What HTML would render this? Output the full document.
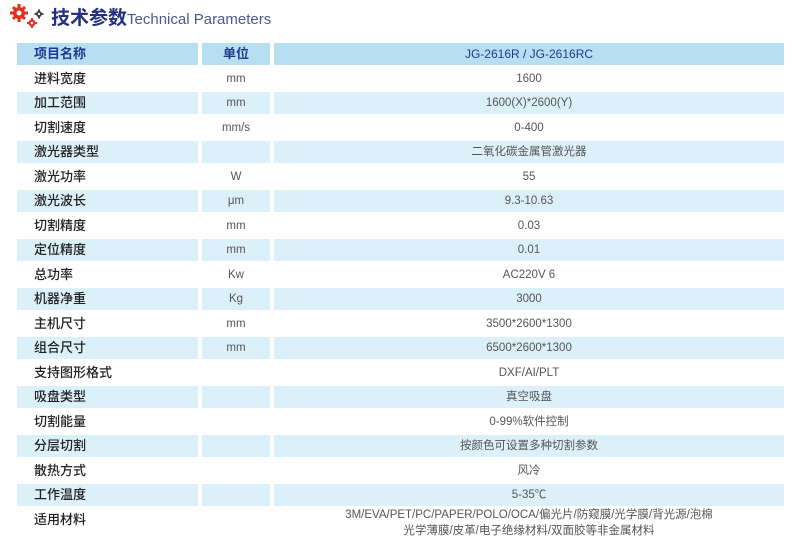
<!DOCTYPE html>
<html><head><meta charset="utf-8"><style>
body{margin:0;width:800px;height:546px;background:#fff;position:relative;overflow:hidden;font-family:"Liberation Sans","Noto Sans CJK SC",sans-serif;}
.c{position:absolute;height:22px;line-height:22px;font-size:11.5px;color:#555;text-align:center;}
.n{font-size:13px;color:#222;text-align:left;padding-left:17px;box-sizing:border-box;font-weight:500;}
.h{color:#1d3a8e;font-weight:bold;font-size:13px;}
</style></head><body>
<svg style="position:absolute;left:10px;top:3px" width="36" height="26" viewBox="0 0 36 26">
<g fill="#e03020"><circle cx="9" cy="10" r="6"/><g stroke="#e03020" stroke-width="3"><line x1="9" y1="1" x2="9" y2="19"/><line x1="0" y1="10" x2="18" y2="10"/><line x1="3" y1="4" x2="15" y2="16"/><line x1="15" y1="4" x2="3" y2="16"/></g><circle cx="9" cy="10" r="2.5" fill="#fff"/>
<circle cx="22" cy="20" r="3.5"/><g stroke="#e03020" stroke-width="2"><line x1="22" y1="15" x2="22" y2="25"/><line x1="17" y1="20" x2="27" y2="20"/></g><circle cx="22" cy="20" r="1.3" fill="#fff"/></g>
<g fill="#444"><circle cx="29" cy="11" r="3"/><g stroke="#444" stroke-width="2"><line x1="29" y1="6.5" x2="29" y2="15.5"/><line x1="24.5" y1="11" x2="33.5" y2="11"/></g><circle cx="29" cy="11" r="1.1" fill="#fff"/></g>
</svg>
<div style="position:absolute;left:51px;top:3px;font-size:19px;font-weight:bold;color:#25307f;white-space:nowrap">技术参数<span style="font-weight:normal;font-size:15px;color:#4b5a8c">Technical Parameters</span></div>
<div id="t"></div>
<script>
var rows=[["项目名称","单位","JG-2616R / JG-2616RC"],["进料宽度","mm","1600"],["加工范围","mm","1600(X)*2600(Y)"],["切割速度","mm/s","0-400"],["激光器类型","","二氧化碳金属管激光器"],["激光功率","W","55"],["激光波长","μm","9.3-10.63"],["切割精度","mm","0.03"],["定位精度","mm","0.01"],["总功率","Kw","AC220V 6"],["机器净重","Kg","3000"],["主机尺寸","mm","3500*2600*1300"],["组合尺寸","mm","6500*2600*1300"],["支持图形格式","","DXF/AI/PLT"],["吸盘类型","","真空吸盘"],["切割能量","","0-99%软件控制"],["分层切割","","按颜色可设置多种切割参数"],["散热方式","","风冷"],["工作温度","","5-35℃"]];
var h="";
rows.forEach(function(r,i){var t=43+i*24.5;var bg=i==0?"#b7dff1":(i%2==0?"#dcf0f9":"transparent");
var hc=i==0?" h":"";
h+='<div class="c n'+hc+'" style="left:17px;width:181px;top:'+t+'px;background:'+bg+'">'+r[0]+'</div>';
h+='<div class="c'+hc+'" style="left:202px;width:68px;top:'+t+'px;background:'+bg+'">'+r[1]+'</div>';
h+='<div class="c" style="left:274px;width:510px;top:'+t+'px;background:'+bg+(i==0?';color:#1d3a8e;font-size:12px':'')+'">'+r[2]+'</div>';});
var t=43+19*24.5;
h+='<div class="c n" style="left:17px;width:181px;top:'+t+'px">适用材料</div>';
h+='<div class="c" style="left:274px;width:510px;top:'+(t-2)+'px;height:34px;line-height:16px">3M/EVA/PET/PC/PAPER/POLO/OCA/偏光片/防窥膜/光学膜/背光源/泡棉<br>光学薄膜/皮革/电子绝缘材料/双面胶等非金属材料</div>';
document.getElementById("t").innerHTML=h;
</script>
</body></html>
